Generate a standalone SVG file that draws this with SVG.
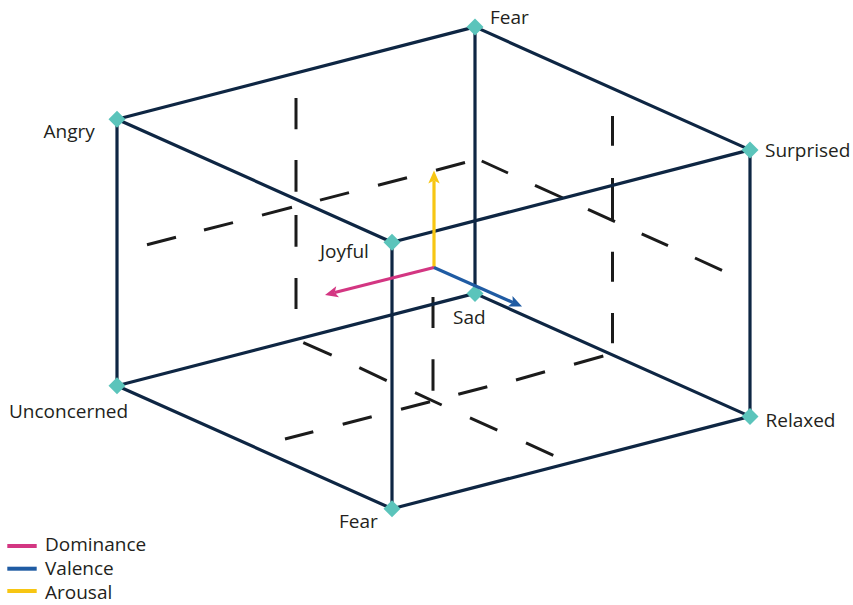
<svg xmlns="http://www.w3.org/2000/svg" width="853" height="605" viewBox="0 0 853 605">
<style>
.edge{stroke:#0e2643;stroke-width:3.2;fill:none;stroke-linecap:round}
.dash{stroke:#1b1b1b;stroke-width:3;fill:none;stroke-linecap:butt}
.node{fill:#5bc4bb}
.lbl{font-family:"Open Sans","Noto Sans","DejaVu Sans",sans-serif;font-size:19px;fill:#231f20}
.ax{fill:none;stroke-width:3.2}
</style>
<defs>
<path id="dm" d="M0,-8.5 L8.5,0 L0,8.5 L-8.5,0 Z"/>
<marker id="hp" markerUnits="userSpaceOnUse" markerWidth="16" markerHeight="14" viewBox="0 -7 16 14" refX="3" refY="0" orient="auto" overflow="visible"><path d="M0,-5.7 L13,0 L0,5.7 L3,0 Z" fill="#d33682"/></marker>
<marker id="hb" markerUnits="userSpaceOnUse" markerWidth="16" markerHeight="14" viewBox="0 -7 16 14" refX="3" refY="0" orient="auto" overflow="visible"><path d="M0,-5.7 L13,0 L0,5.7 L3,0 Z" fill="#1f5ba3"/></marker>
<marker id="hy" markerUnits="userSpaceOnUse" markerWidth="16" markerHeight="14" viewBox="0 -7 16 14" refX="3" refY="0" orient="auto" overflow="visible"><path d="M0,-5.7 L13,0 L0,5.7 L3,0 Z" fill="#f7c613"/></marker>
</defs>
<g id="midlines">
<path class="dash" d="M296,98 V129.3 M296,160 V191.7 M296,215 V246.7 M296,278 V309"/>
<path class="dash" d="M612.5,116 V145.7 M612.5,178 V221 M612.5,251.7 V281.7 M612.5,313 V343.3"/>
<path class="dash" d="M433,297 V328 M433,359.3 V390.7"/>
<path class="dash" d="M147,244.7 L176,237.2 M204,230 L233,222.6 M262,215.1 L292,207.3 M320,200.1 L349,192.6 M378,185.2 L407,177.7 M436,170.2 L465,162.5"/>
<path class="dash" d="M481.7,161 L508,173 M535,185.3 L563,198 M588,209.4 L615,221.6 M641.7,233.8 L668,245.7 M695,258 L722,270.3"/>
<path class="dash" d="M303.3,342.7 L331.7,355.2 M359.3,367.7 L386.7,380.6 M415,392.7 L441.7,405 M470,417.8 L497.3,430.2 M526,442.8 L553.3,455.3"/>
<path class="dash" d="M285,439 L313.3,431.7 M342.7,424.3 L371.7,416.7 M401,409.3 L430,401.7 M458.3,394.3 L487.3,386.7 M516,380 L545,371.7 M574,364.3 L603.3,356"/>
</g>
<g id="connectors">
<line class="edge" x1="117" y1="119.2" x2="475" y2="26.9"/>
<line class="edge" x1="475" y1="26.9" x2="750" y2="149.9"/>
<line class="edge" x1="117" y1="119.2" x2="392" y2="242.2"/>
<line class="edge" x1="392" y1="242.2" x2="750" y2="149.9"/>
<line class="edge" x1="117" y1="119.2" x2="117" y2="385.7"/>
<line class="edge" x1="392" y1="242.2" x2="392" y2="508.7"/>
<line class="edge" x1="750" y1="149.9" x2="750" y2="416.4"/>
<line class="edge" x1="475" y1="26.9" x2="475" y2="293.4"/>
<line class="edge" x1="117" y1="385.7" x2="475" y2="293.4"/>
<line class="edge" x1="475" y1="293.4" x2="750" y2="416.4"/>
<line class="edge" x1="117" y1="385.7" x2="392" y2="508.7"/>
<line class="edge" x1="392" y1="508.7" x2="750" y2="416.4"/>
</g>
<g id="nodes">
<g id="n-fear-top"><use href="#dm" class="node" x="475" y="26.9"/><text class="lbl" x="490" y="24">Fear</text></g>
<g id="n-angry"><use href="#dm" class="node" x="117" y="119.2"/><text class="lbl" x="43.5" y="138">Angry</text></g>
<g id="n-surprised"><use href="#dm" class="node" x="750" y="149.9"/><text class="lbl" x="765" y="157">Surprised</text></g>
<g id="n-joyful"><use href="#dm" class="node" x="392" y="242.2"/><text class="lbl" x="320" y="258">Joyful</text></g>
<g id="n-sad"><use href="#dm" class="node" x="475" y="293.4"/><text class="lbl" x="453" y="324">Sad</text></g>
<g id="n-unconcerned"><use href="#dm" class="node" x="117" y="385.7"/><text class="lbl" x="9" y="418">Unconcerned</text></g>
<g id="n-relaxed"><use href="#dm" class="node" x="750" y="416.4"/><text class="lbl" x="765.5" y="427">Relaxed</text></g>
<g id="n-fear-bottom"><use href="#dm" class="node" x="392" y="508.7"/><text class="lbl" x="339" y="528">Fear</text></g>
</g>
<g id="axes">
<line class="ax" stroke="#f7c613" x1="434" y1="267.5" x2="434" y2="180.5" marker-end="url(#hy)"/>
<line class="ax" stroke="#d33682" x1="434" y1="267.5" x2="334.7" y2="292.55" marker-end="url(#hp)"/>
<line class="ax" stroke="#1f5ba3" x1="434" y1="267.5" x2="512.9" y2="302.45" marker-end="url(#hb)"/>
</g>
<g id="legend">
<line stroke="#d33682" stroke-width="4" x1="7.3" y1="546" x2="36.7" y2="546"/>
<line stroke="#1f5ba3" stroke-width="4" x1="7.3" y1="568.7" x2="36.7" y2="568.7"/>
<line stroke="#f7c613" stroke-width="4" x1="7.3" y1="591" x2="36.7" y2="591"/>
<text class="lbl" x="45" y="551">Dominance</text>
<text class="lbl" x="45" y="575">Valence</text>
<text class="lbl" x="45" y="599">Arousal</text>
</g>
</svg>
